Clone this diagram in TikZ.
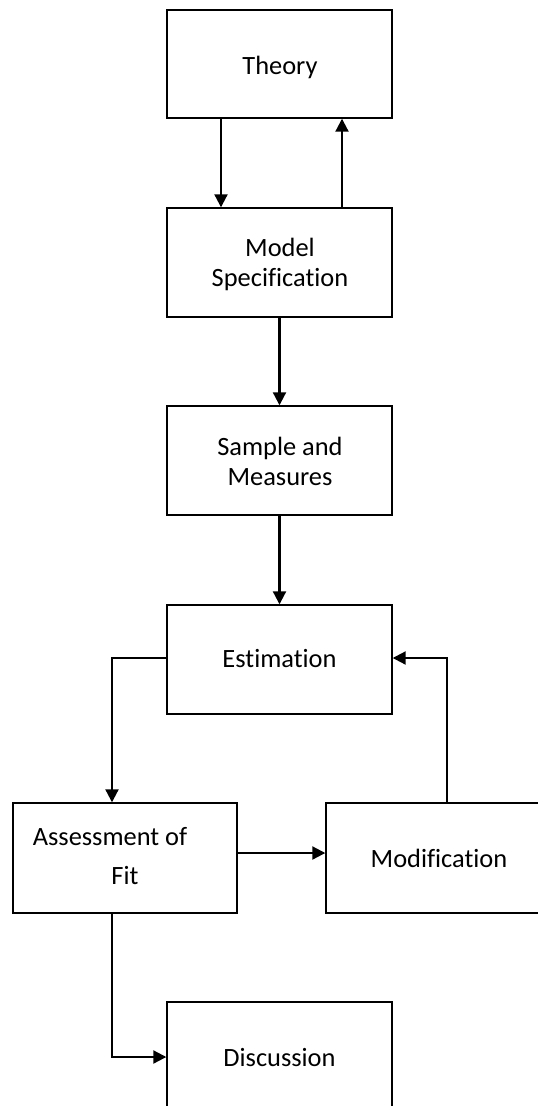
\documentclass[tikz,border=0pt]{standalone}
\usepackage{fontspec}
\setmainfont{Carlito}[Ligatures=CommonOff]
\usetikzlibrary{arrows.meta}
\begin{document}
\begin{tikzpicture}[x=1pt,y=-1pt,
  box/.style={draw=black,line width=1.4pt,rectangle,inner sep=0pt,minimum width=225pt},
  lbl/.style={inner sep=0pt,anchor=base,font=\fontsize{26.4}{31}\selectfont},
  conn/.style={line width=2.1pt,-{Triangle[width=13pt,length=13pt]}}]
\useasboundingbox (0,0) rectangle (538,1106);
\clip (0,0) rectangle (538,1106);
% boxes
\node[box,minimum height=108pt] (theory) at (279.5,64) {};
\node[box,minimum height=109pt] (model) at (279.5,262.5) {};
\node[box,minimum height=109pt] (sample) at (279.5,460.5) {};
\node[box,minimum height=109pt] (estim) at (279.5,659.5) {};
\node[box,minimum height=110pt,minimum width=224pt] (assess) at (125,858) {};
\node[box,minimum height=110pt] (modif) at (438.5,858) {};
\node[box,minimum height=110pt] (disc) at (279.5,1057) {};
% labels
\node[lbl] (ttheory) at (280,74) {Theory};
\node[lbl] (tmodel1) at (280,256) {Model};
\node[lbl] (tmodel2) at (280,286) {Specification};
\node[lbl] (tsample1) at (280,455) {Sample and};
\node[lbl] (tsample2) at (280,485) {Measures};
\node[lbl] (testim) at (279.5,667) {Estimation};
\node[lbl] (tassess1) at (110,845) {Assessment of};
\node[lbl] (tassess2) at (125,884) {Fit};
\node[lbl] (tmodif) at (439,867) {Modification};
\node[lbl] (tdisc) at (279.5,1066) {Discussion};
% connectors
\draw[conn] ([xshift=-58.5pt]theory.south) -- ([xshift=-58.5pt]model.north);
\draw[conn] ([xshift=62.5pt]model.north) -- ([xshift=62.5pt]theory.south);
\draw[conn] (model.south) -- (sample.north);
\draw[conn] (sample.south) -- (estim.north);
\draw[conn] ([yshift=1.5pt]estim.west) -| ([xshift=-13pt]assess.north);
\draw[conn] ([yshift=5pt]assess.east) -- ([yshift=5pt]assess.east -| modif.west);
\draw[conn] ([xshift=8.5pt]modif.north) |- ([yshift=1.5pt]estim.east);
\draw[conn] ([xshift=-13pt]assess.south) |- (disc.west);
\end{tikzpicture}
\end{document}
